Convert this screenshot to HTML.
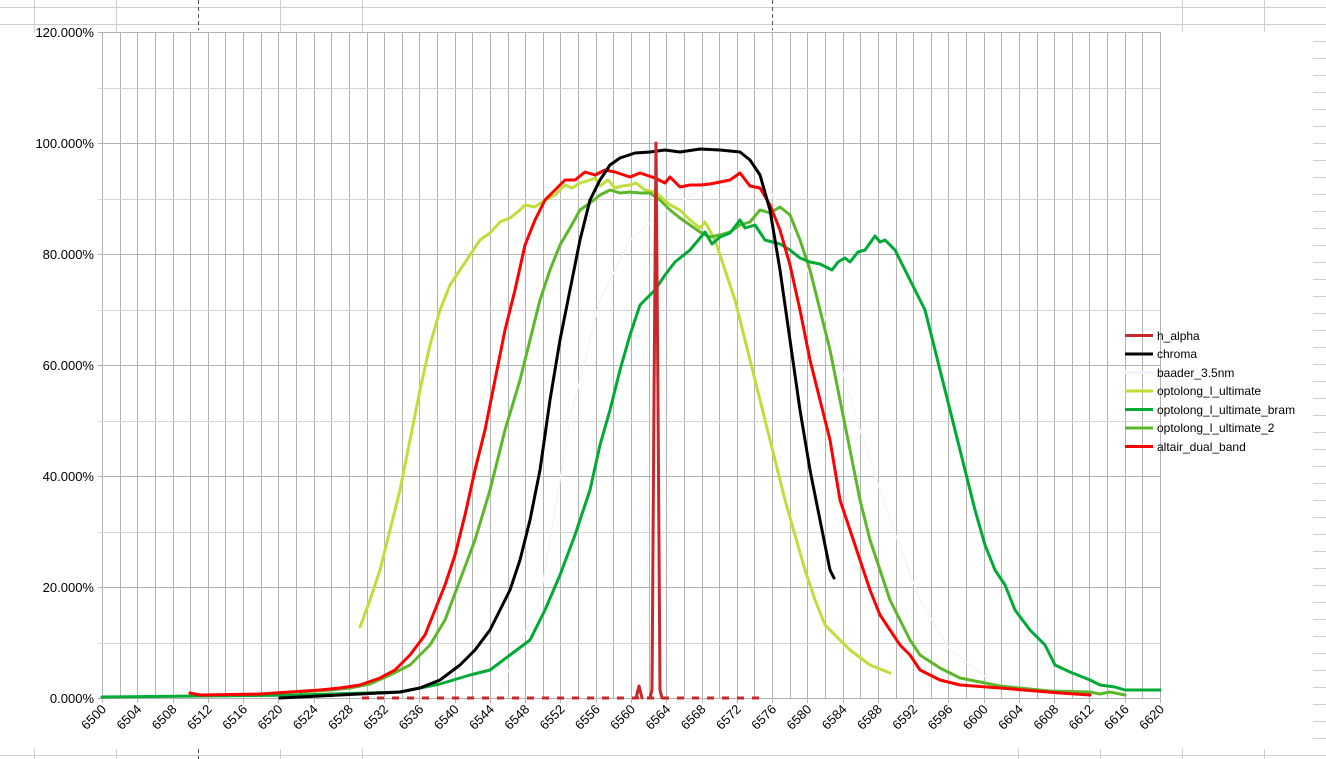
<!DOCTYPE html>
<html><head><meta charset="utf-8"><style>
html,body{margin:0;padding:0;background:#fff;}
svg{display:block;font-family:"Liberation Sans",sans-serif;}
</style></head><body>
<svg width="1326" height="759" xmlns="http://www.w3.org/2000/svg">
<g stroke="#cfcfcf" stroke-width="1">
<line x1="0" y1="7.5" x2="1326" y2="7.5"/><line x1="0" y1="24.5" x2="1326" y2="24.5"/>
<line x1="0" y1="755.5" x2="1326" y2="755.5"/>
<line x1="34.5" y1="0" x2="34.5" y2="32"/><line x1="116.5" y1="0" x2="116.5" y2="32"/>
<line x1="280.5" y1="0" x2="280.5" y2="32"/><line x1="362.5" y1="0" x2="362.5" y2="32"/>
<line x1="1182.5" y1="0" x2="1182.5" y2="32"/><line x1="1264.5" y1="0" x2="1264.5" y2="32"/>
<line x1="1018.5" y1="749" x2="1018.5" y2="759"/><line x1="1100.5" y1="749" x2="1100.5" y2="759"/>
<line x1="1182.5" y1="749" x2="1182.5" y2="759"/><line x1="1264.5" y1="749" x2="1264.5" y2="759"/>
<line x1="34.5" y1="749" x2="34.5" y2="759"/><line x1="116.5" y1="749" x2="116.5" y2="759"/><line x1="280.5" y1="749" x2="280.5" y2="759"/><line x1="362.5" y1="749" x2="362.5" y2="759"/>
</g>
<g stroke="#555" stroke-dasharray="4,3"><line x1="198.5" y1="0" x2="198.5" y2="30"/><line x1="772.5" y1="0" x2="772.5" y2="30"/><line x1="198.5" y1="749" x2="198.5" y2="759"/></g>
<g id="rt" stroke="#cfcfcf"></g>
<g stroke="#b3b3b3" stroke-width="1" id="grid"></g>
<g font-size="13" fill="#000" text-anchor="end">
<text x="94" y="37">120.000%</text><text x="94" y="148">100.000%</text><text x="94" y="259">80.000%</text>
<text x="94" y="370">60.000%</text><text x="94" y="481">40.000%</text><text x="94" y="592">20.000%</text><text x="94" y="703">0.000%</text>
</g>
<g id="xl" font-size="13" text-anchor="end"></g>
<g fill="none" stroke-linejoin="round" stroke-linecap="round" stroke-width="3">
<polyline stroke="#f5f5f9" stroke-width="1.5" points="500,690 540,600 570,420 600,300 630,240 660,215 700,190 740,185 770,190 800,250 830,330 860,430 890,520 920,600 950,650 990,680"/>
<polyline stroke="#c0de3a" points="360,627 370,600 380,570 390,530 400,490 410,440 420,390 430,345 440,310 450,285 460,270 470,255 480,240 490,233 500,222 510,218 520,210 525,205 535,207 545,200 555,195 565,185 572,188 580,183 590,180 595,178 600,186 608,180 615,188 622,186 630,185 636,183 645,190 655,192 660,196 670,205 680,210 690,220 700,228 705,222 715,240 725,270 735,300 745,340 755,380 765,420 775,460 785,500 795,535 805,570 815,600 825,625 840,640 850,650 870,665 890,673"/>
<polyline stroke="#5cb82a" points="300,692 330,690 350,688 370,684 390,675 410,665 430,645 445,620 460,580 475,540 490,490 505,430 520,380 530,340 540,300 550,270 560,245 570,228 580,210 590,203 600,195 610,190 620,193 630,192 640,193 650,193 660,200 670,210 680,218 690,225 700,232 710,237 720,235 730,232 740,225 750,222 760,210 770,213 780,207 790,215 800,240 810,270 820,310 830,350 840,400 850,450 860,500 870,540 880,570 890,600 900,620 910,640 920,655 940,668 960,678 1000,686 1050,691 1090,692 1100,694 1110,692 1125,695"/>
<polyline stroke="#00ab35" points="102,697 200,696 300,695 400,692 440,684 470,675 490,670 510,655 530,640 545,610 560,575 575,535 590,490 600,445 610,410 620,370 630,335 640,305 648,297 655,290 665,275 675,262 690,250 705,232 712,244 720,237 730,233 740,220 745,228 755,225 765,240 780,244 790,250 800,258 810,262 820,264 832,270 838,262 845,258 850,262 858,252 865,250 875,236 880,242 885,240 895,250 905,270 915,290 925,310 935,350 945,390 955,430 965,470 975,510 985,545 995,570 1005,585 1015,610 1030,630 1045,645 1055,665 1070,672 1090,680 1100,685 1115,687 1125,690 1140,690 1160,690"/>
<polyline stroke="#ff0000" points="190,693 200,695 260,694 290,692 320,690 340,688 360,685 380,678 395,670 410,655 425,635 435,610 445,585 455,555 465,515 475,470 485,430 495,380 505,330 515,290 525,245 535,220 545,200 555,190 565,180 575,180 585,172 595,175 605,170 615,172 630,177 640,173 655,178 665,183 670,177 680,187 690,185 700,185 710,184 720,182 730,180 740,173 750,186 760,188 770,205 780,230 790,265 800,310 810,360 820,400 830,440 840,500 850,530 860,560 870,590 880,615 890,630 900,645 910,655 920,670 940,680 960,685 1000,688 1060,693 1090,695"/>
<polyline stroke="#000" points="280,698 400,692 420,688 440,680 460,665 475,650 490,630 500,610 510,590 520,560 530,520 540,470 550,400 560,340 570,290 580,240 590,200 600,180 610,165 620,158 635,153 650,152 665,150 680,152 700,149 720,150 740,152 750,160 760,175 770,210 780,270 790,340 800,410 810,470 820,520 830,570 834,578"/>
<line x1="362" y1="698" x2="760" y2="698" stroke="#c8282a" stroke-dasharray="7,8" stroke-linecap="butt"/>
<polyline stroke="#c8282a" points="636,698 639,686 642,698"/>
<polyline stroke="#c8282a" points="650,698 652,690 654,400 656,143 658,400 660,690 662,698"/>
</g>
<g font-size="12" fill="#000">
<line x1="1125" y1="335.5" x2="1153" y2="335.5" stroke="#c8282a" stroke-width="3"/><text x="1157" y="340">h_alpha</text>
<line x1="1125" y1="354" x2="1153" y2="354" stroke="#000" stroke-width="3"/><text x="1157" y="358">chroma</text>
<line x1="1125" y1="372.5" x2="1153" y2="372.5" stroke="#f3f3f8" stroke-width="3"/><text x="1157" y="377">baader_3.5nm</text>
<line x1="1125" y1="391" x2="1153" y2="391" stroke="#c0de3a" stroke-width="3"/><text x="1157" y="395">optolong_l_ultimate</text>
<line x1="1125" y1="409.5" x2="1153" y2="409.5" stroke="#00ab35" stroke-width="3"/><text x="1157" y="414">optolong_l_ultimate_bram</text>
<line x1="1125" y1="428" x2="1153" y2="428" stroke="#5cb82a" stroke-width="3"/><text x="1157" y="432">optolong_l_ultimate_2</text>
<line x1="1125" y1="446.5" x2="1153" y2="446.5" stroke="#ff0000" stroke-width="3"/><text x="1157" y="451">altair_dual_band</text>
</g>
<script>
var ns="http://www.w3.org/2000/svg",g=document.getElementById("grid"),xl=document.getElementById("xl"),rt=document.getElementById("rt");
function L(p,a){var e=document.createElementNS(ns,"line");for(var k in a)e.setAttribute(k,a[k]);p.appendChild(e);}
for(var i=0;i<=60;i++){var x=Math.round(102+i*1058/60)+0.5;L(g,{x1:x,y1:32,x2:x,y2:698});}
for(var j=0;j<=12;j++){var y=Math.round(32+j*666/12)+0.5;L(g,{x1:98,y1:y,x2:1160,y2:y,stroke:(j%2?"#d4d4d4":"#b3b3b3")});}
L(g,{x1:102.5,y1:698,x2:102.5,y2:703});
for(var i=0;i<=30;i++){var x=102+i*1058/30;L(g,{x1:Math.round(x)+0.5,y1:698,x2:Math.round(x)+0.5,y2:703});
var t=document.createElementNS(ns,"text");t.setAttribute("transform","translate("+(x+5)+",710) rotate(-45)");t.textContent=6500+4*i;xl.appendChild(t);}
for(var y=41;y<759;y+=17)L(rt,{x1:1313,y1:y+0.5,x2:1326,y2:y+0.5});
</script>
</svg>
</body></html>
